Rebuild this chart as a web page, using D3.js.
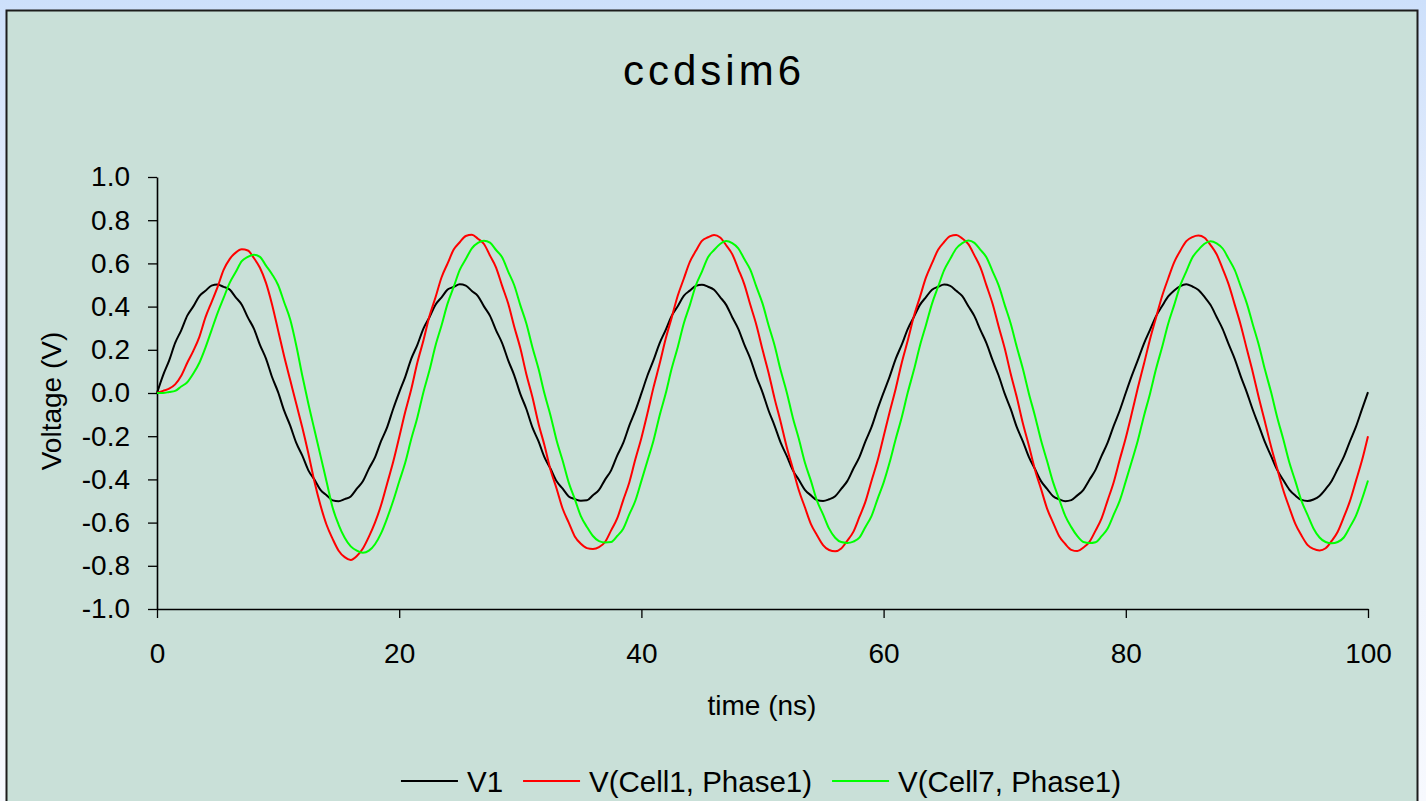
<!DOCTYPE html>
<html>
<head>
<meta charset="utf-8">
<script src="https://cdn.jsdelivr.net/npm/d3@7"></script>
<style>
  html, body { margin: 0; padding: 0; overflow: hidden; background: #ffffff; }
  svg { display: block; }
</style>
</head>
<body>
<svg id="chart" width="1426" height="801"></svg>
<script>
// Transient simulation output, sampled every 0.5 ns from 0 to 100 ns.
const timeStep = 0.5;

// Source voltage V1 (V)
const v1 = [
  0.000, 0.082, 0.150, 0.232, 0.290, 0.358, 0.401, 0.449, 0.473, 0.497,
  0.502, 0.491, 0.479, 0.443, 0.409, 0.350, 0.298, 0.223, 0.159, 0.074,
  0.004, -0.082, -0.151, -0.231, -0.290, -0.358, -0.401, -0.449, -0.473, -0.497,
  -0.501, -0.491, -0.479, -0.443, -0.409, -0.350, -0.298, -0.223, -0.159, -0.074,
  0.003, 0.075, 0.159, 0.223, 0.298, 0.351, 0.409, 0.443, 0.479, 0.491,
  0.503, 0.497, 0.472, 0.449, 0.401, 0.357, 0.290, 0.231, 0.151, 0.082,
  -0.004, -0.074, -0.159, -0.223, -0.298, -0.351, -0.409, -0.443, -0.479, -0.491,
  -0.499, -0.497, -0.473, -0.449, -0.401, -0.358, -0.290, -0.231, -0.151, -0.082,
  -0.002, 0.081, 0.152, 0.230, 0.291, 0.357, 0.402, 0.450, 0.474, 0.496,
  0.501, 0.492, 0.478, 0.444, 0.408, 0.351, 0.297, 0.224, 0.158, 0.075,
  0.003, -0.081, -0.152, -0.230, -0.291, -0.357, -0.402, -0.448, -0.474, -0.496,
  -0.500, -0.492, -0.478, -0.444, -0.408, -0.351, -0.297, -0.224, -0.158, -0.075,
  0.002, 0.076, 0.158, 0.224, 0.297, 0.352, 0.408, 0.444, 0.478, 0.492,
  0.502, 0.496, 0.473, 0.448, 0.402, 0.356, 0.291, 0.230, 0.152, 0.081,
  -0.003, -0.075, -0.158, -0.224, -0.297, -0.352, -0.408, -0.444, -0.478, -0.492,
  -0.501, -0.496, -0.474, -0.448, -0.402, -0.356, -0.291, -0.230, -0.152, -0.081,
  0.001, 0.080, 0.153, 0.229, 0.292, 0.356, 0.403, 0.447, 0.475, 0.495,
  0.503, 0.493, 0.477, 0.445, 0.407, 0.352, 0.296, 0.225, 0.157, 0.076,
  0.002, -0.080, -0.153, -0.229, -0.292, -0.356, -0.403, -0.447, -0.475, -0.495,
  -0.500, -0.493, -0.477, -0.445, -0.407, -0.352, -0.296, -0.225, -0.157, -0.076,
  0.004
];

// V(Cell1, Phase1) (V)
const cell1 = [
  0.000, 0.010, 0.020, 0.040, 0.080, 0.140, 0.195, 0.260, 0.350, 0.420,
  0.490, 0.570, 0.620, 0.650, 0.665, 0.660, 0.625, 0.580, 0.510, 0.410,
  0.290, 0.170, 0.060, -0.050, -0.160, -0.280, -0.410, -0.520, -0.610, -0.675,
  -0.730, -0.760, -0.773, -0.755, -0.720, -0.665, -0.600, -0.520, -0.420, -0.320,
  -0.205,
  -0.087, 0.019, 0.141, 0.243, 0.356, 0.443, 0.536, 0.600, 0.664, 0.698,
  0.727, 0.733, 0.714, 0.690, 0.636, 0.581, 0.496, 0.414, 0.307, 0.208,
  0.087, -0.019, -0.141, -0.243, -0.356, -0.443, -0.536, -0.600, -0.664, -0.698,
  -0.718, -0.722, -0.714, -0.690, -0.636, -0.581, -0.496, -0.414, -0.307, -0.208,
  -0.094, 0.026, 0.134, 0.250, 0.349, 0.450, 0.529, 0.607, 0.658, 0.704,
  0.721, 0.731, 0.720, 0.684, 0.643, 0.574, 0.503, 0.407, 0.314, 0.201,
  0.094, -0.026, -0.134, -0.250, -0.349, -0.450, -0.529, -0.607, -0.658, -0.704,
  -0.727, -0.733, -0.720, -0.684, -0.643, -0.574, -0.503, -0.407, -0.314, -0.201,
  -0.088, 0.020, 0.140, 0.244, 0.355, 0.444, 0.535, 0.601, 0.663, 0.699,
  0.726, 0.732, 0.715, 0.689, 0.637, 0.580, 0.497, 0.413, 0.308, 0.207,
  0.088, -0.020, -0.140, -0.244, -0.355, -0.444, -0.535, -0.601, -0.663, -0.699,
  -0.726, -0.732, -0.715, -0.689, -0.637, -0.580, -0.497, -0.413, -0.308, -0.207,
  -0.093, 0.025, 0.135, 0.249, 0.350, 0.449, 0.530, 0.606, 0.659, 0.703,
  0.722, 0.729, 0.719, 0.685, 0.642, 0.575, 0.502, 0.408, 0.313, 0.202,
  0.093, -0.025, -0.135, -0.249, -0.350, -0.449, -0.530, -0.606, -0.659, -0.703,
  -0.722, -0.729, -0.719, -0.685, -0.642, -0.575, -0.502, -0.408, -0.313, -0.200
];

// V(Cell7, Phase1) (V)
const cell7 = [
  0.000, 0.000, 0.005, 0.010, 0.030, 0.050, 0.090, 0.140, 0.210, 0.290,
  0.370, 0.440, 0.510, 0.560, 0.610, 0.630, 0.640, 0.630, 0.590, 0.550,
  0.500, 0.420, 0.340, 0.220, 0.080, -0.050, -0.170, -0.290, -0.410, -0.530,
  -0.610, -0.670, -0.710, -0.730, -0.740, -0.730, -0.700, -0.650, -0.580, -0.500,
  -0.410,
  -0.322, -0.212, -0.113, 0.004, 0.105, 0.220, 0.314, 0.415, 0.491, 0.570,
  0.620, 0.670, 0.695, 0.705, 0.696, 0.662, 0.628, 0.562, 0.499, 0.407,
  0.322, 0.212, 0.113, -0.004, -0.105, -0.220, -0.314, -0.415, -0.491, -0.570,
  -0.620, -0.662, -0.686, -0.692, -0.690, -0.662, -0.628, -0.562, -0.499, -0.407,
  -0.314, -0.220, -0.105, -0.004, 0.113, 0.212, 0.322, 0.407, 0.499, 0.562,
  0.628, 0.662, 0.690, 0.704, 0.694, 0.670, 0.620, 0.570, 0.491, 0.415,
  0.314, 0.220, 0.105, 0.004, -0.113, -0.212, -0.322, -0.407, -0.499, -0.562,
  -0.628, -0.670, -0.690, -0.694, -0.688, -0.670, -0.620, -0.570, -0.491, -0.415,
  -0.321, -0.213, -0.112, 0.003, 0.106, 0.219, 0.315, 0.414, 0.492, 0.569,
  0.621, 0.669, 0.694, 0.706, 0.695, 0.663, 0.627, 0.563, 0.498, 0.408,
  0.321, 0.213, 0.112, -0.003, -0.106, -0.219, -0.315, -0.414, -0.492, -0.569,
  -0.621, -0.663, -0.690, -0.695, -0.691, -0.663, -0.627, -0.563, -0.498, -0.408,
  -0.315, -0.219, -0.106, -0.003, 0.112, 0.213, 0.321, 0.408, 0.498, 0.563,
  0.627, 0.663, 0.691, 0.703, 0.693, 0.669, 0.621, 0.569, 0.492, 0.414,
  0.315, 0.219, 0.106, 0.003, -0.112, -0.213, -0.321, -0.408, -0.498, -0.563,
  -0.627, -0.669, -0.690, -0.696, -0.690, -0.669, -0.621, -0.569, -0.492, -0.405
];

const seriesNames  = ["V1", "V(Cell1, Phase1)", "V(Cell7, Phase1)"];
const seriesColors = ["#000000", "#ff0000", "#00ff00"];
const xTicks = [0, 20, 40, 60, 80, 100];
const yTicks = [1.0, 0.8, 0.6, 0.4, 0.2, 0.0, -0.2, -0.4, -0.6, -0.8, -1.0];
const titleText = "ccdsim6";
const xTitle = "time (ns)";
const yTitle = "Voltage (V)";

const FONT = "'Liberation Sans', Arial, Helvetica, sans-serif";
const W = 1426, H = 801;
const svg = d3.select("#chart");

// Page background: pale blue wash fading downwards
const defs = svg.append("defs");
const grad = defs.append("linearGradient").attr("id", "bg").attr("x1", 0).attr("y1", 0).attr("x2", 0).attr("y2", 1);
grad.append("stop").attr("offset", "0%").attr("stop-color", "#cde0fb");
grad.append("stop").attr("offset", "30%").attr("stop-color", "#e6eefc");
grad.append("stop").attr("offset", "100%").attr("stop-color", "#f7f9fe");
svg.append("rect").attr("width", W).attr("height", H).attr("fill", "url(#bg)");

// Chart panel
svg.append("rect")
  .attr("x", 6.5).attr("y", 10.5).attr("width", 1411).attr("height", 800)
  .attr("fill", "#c9e0d8").attr("stroke", "#1c1c1c").attr("stroke-width", 2);

// Scales
const x = d3.scaleLinear().domain([0, 100]).range([157, 1368]);
const y = d3.scaleLinear().domain([-1, 1]).range([609, 177]);

// Title
svg.append("text")
  .attr("x", 714).attr("y", 85)
  .attr("text-anchor", "middle")
  .attr("font-family", FONT).attr("font-size", 42)
  .attr("letter-spacing", 4)
  .attr("fill", "#000")
  .text(titleText);

// Axes
const yAxis = d3.axisLeft(y)
  .tickValues(yTicks)
  .tickFormat(d => d.toFixed(1))
  .tickSize(9).tickSizeOuter(0).tickPadding(18);
const xAxis = d3.axisBottom(x)
  .tickValues(xTicks)
  .tickFormat(d => String(d))
  .tickSize(9).tickSizeOuter(0).tickPadding(25);

const gy = svg.append("g").attr("transform", `translate(${x(0)},0)`).call(yAxis);
const gx = svg.append("g").attr("transform", `translate(0,${y(-1)})`).call(xAxis);
[gx, gy].forEach(g => {
  g.attr("font-family", FONT).attr("font-size", 28);
  g.select(".domain").attr("stroke", "#000").attr("stroke-width", 1.6);
  g.selectAll(".tick line").attr("stroke", "#000").attr("stroke-width", 1.3);
  g.selectAll(".tick text").attr("fill", "#000");
});

// Axis titles
svg.append("text")
  .attr("x", 762).attr("y", 715)
  .attr("text-anchor", "middle")
  .attr("font-family", FONT).attr("font-size", 28)
  .text(xTitle);
svg.append("text")
  .attr("transform", "translate(61,401) rotate(-90)")
  .attr("text-anchor", "middle")
  .attr("font-family", FONT).attr("font-size", 28)
  .text(yTitle);

// Series lines
const seriesData = [v1, cell1, cell7];
const line = d3.line()
  .x((d, i) => x(i * timeStep))
  .y(d => y(d))
  .curve(d3.curveMonotoneX);
svg.append("g").selectAll("path")
  .data(seriesData)
  .join("path")
  .attr("d", line)
  .attr("fill", "none")
  .attr("stroke", (d, i) => seriesColors[i])
  .attr("stroke-width", 2)
  .attr("stroke-linejoin", "round");

// Legend: sample line + label per series, laid out left to right and centred
const legend = svg.append("g");
const sampleLen = 57, sampleGap = 9, itemGap = 20;
const items = seriesNames.map((name, i) => {
  const g = legend.append("g");
  g.append("line").attr("x1", 0).attr("x2", sampleLen).attr("y1", 0).attr("y2", 0)
    .attr("stroke", seriesColors[i]).attr("stroke-width", 2);
  const t = g.append("text").attr("x", sampleLen + sampleGap).attr("y", 11)
    .attr("font-family", FONT).attr("font-size", 29.5).text(name);
  return { g, width: sampleLen + sampleGap + t.node().getComputedTextLength() };
});
const total = d3.sum(items, d => d.width) + itemGap * (items.length - 1);
let cx = 761 - total / 2;
items.forEach(it => {
  it.g.attr("transform", `translate(${cx},781)`);
  cx += it.width + itemGap;
});
</script>
</body>
</html>
